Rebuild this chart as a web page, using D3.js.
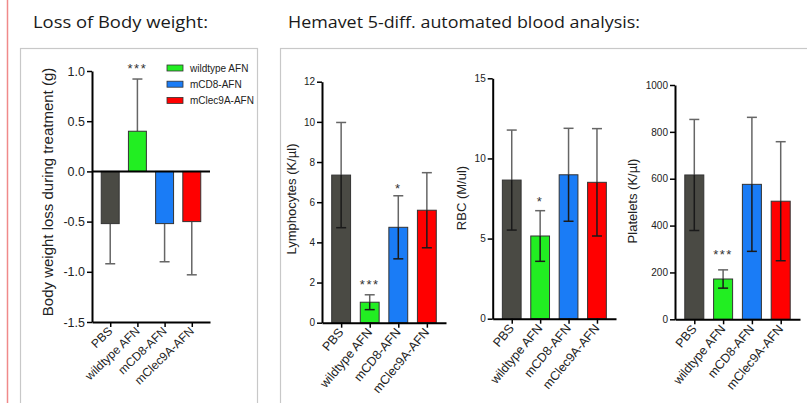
<!DOCTYPE html>
<html><head><meta charset="utf-8">
<script src="https://cdn.jsdelivr.net/npm/d3@7"></script>
<style>
html,body{margin:0;padding:0;background:#fff;}
svg{display:block;}
</style></head>
<body>
<svg id="c" width="807" height="403"></svg>
<script>
// ---- data ----
const categories = ["PBS", "wildtype AFN", "mCD8-AFN", "mClec9A-AFN"];
const barColors = ["#4a4a44", "#22ee22", "#1a7cf6", "#ff0000"];
const legendItems = ["wildtype AFN", "mCD8-AFN", "mClec9A-AFN"];

const weightMean = [-0.52, 0.40, -0.52, -0.50];
const weightErr  = [0.40, 0.52, 0.38, 0.53];
const weightStars = ["", "***", "", ""];
const weightStarAt = [null, 1.05, null, null];
const weightTicks = [1.0, 0.5, 0.0, -0.5, -1.0, -1.5];

const lymphMean = [7.35, 1.02, 4.75, 5.60];
const lymphErr  = [2.62, 0.37, 1.57, 1.87];
const lymphStars = ["", "***", "*", ""];
const lymphStarAt = [null, 2.04, 6.82, null];
const lymphTicks = [0, 2, 4, 6, 8, 10, 12];

const rbcMean = [8.65, 5.16, 8.98, 8.51];
const rbcErr  = [3.12, 1.58, 2.90, 3.35];
const rbcStars = ["", "*", "", ""];
const rbcStarAt = [null, 7.47, null, null];
const rbcTicks = [0, 5, 10, 15];

const pltMean = [616, 172, 576, 504];
const pltErr  = [237, 39, 286, 254];
const pltStars = ["", "***", "", ""];
const pltStarAt = [null, 288, null, null];
const pltTicks = [0, 200, 400, 600, 800, 1000];

const titles = ["Loss of Body weight:", "Hemavet 5-diff. automated blood analysis:"];
const yLabels = ["Body weight loss during treatment (g)", "Lymphocytes (K/µl)", "RBC (M/ul)", "Platelets (K/µl)"];

// ---- drawing ----
const svg = d3.select("#c");
const FONT = "'Liberation Sans', Arial, Helvetica, sans-serif";
const TFONT = "'Open Sans', 'Noto Sans', sans-serif";
const hyph = f => v => f(v).replace("\u2212", "-");

// left pink margin line
svg.append("line").attr("x1", 7.5).attr("x2", 7.5).attr("y1", 0).attr("y2", 403)
  .attr("stroke", "#f08a8a").attr("stroke-width", 1.5);

// panel frames
svg.append("rect").attr("x", 20.5).attr("y", 48.5).attr("width", 237).attr("height", 400)
  .attr("fill", "none").attr("stroke", "#c8c8c8").attr("stroke-width", 1.2);
svg.append("rect").attr("x", 280.5).attr("y", 48.5).attr("width", 600).attr("height", 400)
  .attr("fill", "none").attr("stroke", "#c8c8c8").attr("stroke-width", 1.2);

// titles
svg.append("text").attr("x", 33).attr("y", 28).text(titles[0])
  .attr("font-family", TFONT).attr("font-size", 17).attr("fill", "#1a1a1a")
  .attr("textLength", 175).attr("lengthAdjust", "spacingAndGlyphs");
svg.append("text").attr("x", 288).attr("y", 28).text(titles[1])
  .attr("font-family", TFONT).attr("font-size", 17).attr("fill", "#1a1a1a")
  .attr("textLength", 352).attr("lengthAdjust", "spacingAndGlyphs");

const charts = [
  {mean: weightMean, err: weightErr, stars: weightStars, starAt: weightStarAt, ticks: weightTicks,
   fmt: hyph(d3.format(".1f")), domain: [-1.5, 1.0], x0: 92, x1: 210, yTop: 71, yBot: 322,
   label: yLabels[0], labelX: 52.5, labelY: 192, labelSize: 15, tickSize: 12.5, xlabSize: 12, xlabAngle: -44,
   oneSided: true, zeroLine: true},
  {mean: lymphMean, err: lymphErr, stars: lymphStars, starAt: lymphStarAt, ticks: lymphTicks,
   fmt: d3.format("d"), domain: [0, 12], x0: 322, x1: 446, yTop: 81.7, yBot: 322.7,
   label: yLabels[1], labelX: 295.5, labelY: 199, labelSize: 13, tickSize: 10, xlabSize: 12.5, xlabAngle: -50,
   oneSided: false},
  {mean: rbcMean, err: rbcErr, stars: rbcStars, starAt: rbcStarAt, ticks: rbcTicks,
   fmt: d3.format("d"), domain: [0, 15], x0: 492.7, x1: 616, yTop: 78.3, yBot: 318.7,
   label: yLabels[2], labelX: 466, labelY: 198, labelSize: 13, tickSize: 10, xlabSize: 12.5, xlabAngle: -50,
   oneSided: false},
  {mean: pltMean, err: pltErr, stars: pltStars, starAt: pltStarAt, ticks: pltTicks,
   fmt: d3.format("d"), domain: [0, 1000], x0: 675, x1: 800, yTop: 85, yBot: 319.3,
   label: yLabels[3], labelX: 636.5, labelY: 201, labelSize: 13, tickSize: 10, xlabSize: 12.5, xlabAngle: -50,
   oneSided: false}
];

charts.forEach(ch => {
  const g = svg.append("g");
  const x = d3.scalePoint().domain(categories).range([ch.x0, ch.x1]).padding(0.67);
  const bw = x.step() * 0.66;
  const y = d3.scaleLinear().domain(ch.domain).range([ch.yBot, ch.yTop]);
  const base = ch.zeroLine ? y(0) : y(ch.domain[0]);

  const data = categories.map((c, i) => ({c, i, m: ch.mean[i], e: ch.err[i], s: ch.stars[i], sa: ch.starAt[i]}));

  // error bars (outer part, gray) drawn first
  data.forEach(d => {
    const dir = d.m >= 0 ? 1 : -1;
    const ye = y(d.m + dir * d.e);
    const cx = x(d.c);
    g.append("line").attr("x1", cx).attr("x2", cx).attr("y1", y(d.m)).attr("y2", ye)
      .attr("stroke", "#666").attr("stroke-width", 1.5);
    g.append("line").attr("x1", cx - 5).attr("x2", cx + 5).attr("y1", ye).attr("y2", ye)
      .attr("stroke", "#666").attr("stroke-width", 1.5);
  });

  // bars
  g.selectAll("rect.bar").data(data).join("rect")
    .attr("x", d => x(d.c) - bw / 2)
    .attr("y", d => Math.min(y(d.m), base))
    .attr("width", bw)
    .attr("height", d => Math.abs(y(d.m) - base))
    .attr("fill", (d, i) => barColors[i])
    .attr("stroke", "#333").attr("stroke-width", 1);

  // inner error part
  if (!ch.oneSided) {
    data.forEach(d => {
      const cx = x(d.c);
      const yl = y(d.m - d.e);
      g.append("line").attr("x1", cx).attr("x2", cx).attr("y1", y(d.m)).attr("y2", yl)
        .attr("stroke", "#1a1a1a").attr("stroke-width", 1.5);
      g.append("line").attr("x1", cx - 5).attr("x2", cx + 5).attr("y1", yl).attr("y2", yl)
        .attr("stroke", "#1a1a1a").attr("stroke-width", 1.5);
    });
  }

  // stars
  data.filter(d => d.s).forEach(d => {
    g.append("text").attr("x", x(d.c)).attr("y", y(d.sa) + 7)
      .attr("text-anchor", "middle").attr("font-family", FONT).attr("font-size", 13)
      .attr("letter-spacing", 1.5).attr("fill", "#333").text(d.s);
  });

  // y axis
  const ya = g.append("g").attr("transform", `translate(${ch.x0},0)`)
    .call(d3.axisLeft(y).tickValues(ch.ticks).tickFormat(ch.fmt).tickSize(5).tickSizeOuter(0).tickPadding(2));
  ya.attr("font-family", FONT);
  ya.select(".domain").attr("stroke", "#000").attr("stroke-width", 2);
  ya.selectAll(".tick line").attr("stroke", "#000").attr("stroke-width", 1.5);
  ya.selectAll(".tick text").attr("font-family", FONT).attr("font-size", ch.tickSize).attr("fill", "#222");

  // x axis
  const xa = g.append("g").attr("transform", `translate(0,${ch.yBot})`)
    .call(d3.axisBottom(x).tickSize(5).tickSizeOuter(0).tickFormat(""));
  xa.select(".domain").attr("stroke", "#000").attr("stroke-width", 2);
  xa.selectAll(".tick line").attr("stroke", "#000").attr("stroke-width", 1.5);

  // x labels
  g.selectAll("text.xl").data(categories).join("text")
    .attr("transform", d => `translate(${x(d) + 3},${ch.yBot + 10}) rotate(${ch.xlabAngle})`)
    .attr("text-anchor", "end").attr("font-family", FONT).attr("font-size", ch.xlabSize)
    .attr("fill", "#222").text(d => d);

  // zero line
  if (ch.zeroLine) {
    g.append("line").attr("x1", ch.x0).attr("x2", ch.x1).attr("y1", y(0)).attr("y2", y(0))
      .attr("stroke", "#000").attr("stroke-width", 2);
  }

  // y label
  g.append("text").attr("transform", `translate(${ch.labelX},${ch.labelY}) rotate(-90)`)
    .attr("text-anchor", "middle").attr("font-family", FONT).attr("font-size", ch.labelSize)
    .attr("fill", "#222").text(ch.label);
});

// legend (left chart)
const lg = svg.append("g");
legendItems.forEach((t, i) => {
  const yy = 68 + i * 16.2;
  lg.append("rect").attr("x", 167).attr("y", yy - 3).attr("width", 16).attr("height", 6)
    .attr("fill", barColors[i + 1]).attr("stroke", "#333").attr("stroke-width", 0.8);
  lg.append("text").attr("x", 190).attr("y", yy + 3.5).attr("font-family", FONT)
    .attr("font-size", 10).attr("fill", "#222").text(t);
});
</script>
</body></html>
